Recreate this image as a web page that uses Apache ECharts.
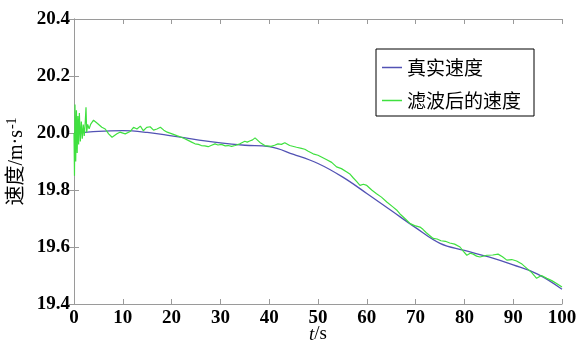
<!DOCTYPE html>
<html>
<head>
<meta charset="utf-8">
<script src="https://cdn.jsdelivr.net/npm/echarts@6/dist/echarts.min.js"></script>
<style>html,body{margin:0;padding:0;background:#fff;}#c{width:582px;height:345px;}</style>
</head>
<body>
<div id="c"></div>
<script>
// True velocity
const tTrue = [0,5,10,15,20,25,30,35,40,45,50,55,60,65,70,75,80,85,90,95,100];
const vTrue = [20.000,20.006,20.008,20.002,19.990,19.977,19.965,19.957,19.952,19.925,19.893,19.846,19.788,19.728,19.668,19.613,19.588,19.565,19.537,19.505,19.452];
// Filtered velocity
const tFilt = [0,0.1,0.2,0.35,0.5,0.65,0.8,0.95,1.1,1.3,1.5,1.7,1.9,2.1,2.3,2.46,2.6,2.8,3.1,3.4,3.7,4.0,4.4,4.7,5.1,5.7,6.4,7.1,7.8,8.1,8.8,9.4,10.5,11.5,12.2,12.9,13.6,14.2,14.9,15.6,16.3,17,17.7,18.4,19.1,20.1,21.2,22,22.7,23.4,24.1,24.8,25.5,26.1,26.8,27.5,28.2,28.9,29.5,30.2,31,31.6,32.3,33,34,35,35.5,36,36.6,37.1,37.6,38.1,39.1,40.4,41.1,41.8,42.5,43.2,44.2,45.6,46.6,47.3,48,49,50,50.8,51.8,52.8,53.8,54.8,55.9,56.6,57.2,57.9,58.6,59.3,60,61,62,63,64.1,65.4,66.1,66.8,67.8,68.9,69.8,70.9,71.5,72.2,73.6,74.4,75.2,76.1,77,78,79.1,79.8,80.5,81.2,81.8,82.5,83.2,84.6,85.8,86.9,87.8,88.7,89.7,90.7,91.8,92.8,93.8,94.8,95.8,96.9,97.9,98.9,100];
const vFilt = [20.0,19.85,20.10,19.90,20.08,19.93,20.06,19.96,20.07,19.97,20.04,19.98,20.03,19.99,20.037,20.09,20.003,20.03,20.015,20.03,20.026,20.045,20.05,20.035,20.04,20.02,20.014,19.997,19.985,19.98,19.997,20.003,19.997,20.005,20.02,20.014,20.024,20.008,20.02,20.022,20.01,20.014,20.02,20.01,20.003,19.997,19.99,19.985,19.98,19.974,19.968,19.962,19.96,19.956,19.955,19.952,19.957,19.962,19.958,19.96,19.955,19.956,19.953,19.956,19.962,19.971,19.968,19.972,19.976,19.983,19.975,19.967,19.956,19.953,19.957,19.962,19.96,19.966,19.956,19.95,19.946,19.943,19.936,19.927,19.922,19.915,19.906,19.897,19.881,19.875,19.863,19.855,19.843,19.83,19.816,19.82,19.816,19.8,19.787,19.775,19.758,19.74,19.73,19.716,19.7,19.682,19.675,19.67,19.662,19.65,19.63,19.628,19.622,19.62,19.614,19.61,19.6,19.585,19.571,19.578,19.575,19.568,19.565,19.571,19.572,19.575,19.566,19.554,19.556,19.551,19.54,19.525,19.51,19.49,19.5,19.49,19.482,19.472,19.46];
const seriesNames = ['真实速度','滤波后的速度'];
const xName = '{i|t}/s';
const yName = '速度/m·s{sup|-1}';

const labelFont = {color:'#000', fontFamily:'Liberation Serif', fontWeight:'bold', fontSize:19};
const axisLineStyle = {lineStyle:{color:'#9a9a9a', width:1}};
const tickStyle = {show:true, inside:true, length:5, lineStyle:{color:'#9a9a9a'}};

const chart = echarts.init(document.getElementById('c'));
chart.setOption({
  animation:false,
  backgroundColor:'#fff',
  grid:{left:74, right:20, top:19, bottom:41, containLabel:false, outerBoundsMode:'none'},
  legend:{
    orient:'vertical', left:376, top:49,
    backgroundColor:'#fff', borderColor:'#000', borderWidth:1,
    padding:[9,13,6,6], itemGap:14,
    icon:'rect', itemWidth:20, itemHeight:1.5,
    textStyle:{fontFamily:'Noto Sans CJK SC', fontSize:19, color:'#000'},
    data:seriesNames
  },
  xAxis:[{
    type:'value', min:0, max:100, interval:10,
    axisLine:axisLineStyle, axisTick:tickStyle, splitLine:{show:false},
    axisLabel:Object.assign({margin:5}, labelFont),
    name:xName, nameLocation:'middle', nameGap:21, nameMoveOverlap:false,
    nameTextStyle:{fontFamily:'Liberation Serif', fontSize:19, color:'#000',
      rich:{i:{fontFamily:'Liberation Serif', fontStyle:'italic', fontSize:19, color:'#000'}}}
  },{
    type:'value', position:'top', min:0, max:100, interval:10,
    axisLine:axisLineStyle, axisTick:tickStyle, axisLabel:{show:false}, splitLine:{show:false}
  }],
  yAxis:[{
    type:'value', min:19.4, max:20.4, interval:0.2,
    axisLine:Object.assign({show:true}, axisLineStyle), axisTick:tickStyle, splitLine:{show:false},
    axisLabel:Object.assign({margin:4, formatter:v=>v.toFixed(1)}, labelFont),
    name:yName, nameLocation:'middle', nameGap:46, nameRotate:90, nameMoveOverlap:false,
    nameTextStyle:{fontFamily:'Liberation Serif, Noto Sans CJK SC', fontSize:20, color:'#000',
      rich:{sup:{fontFamily:'Liberation Serif', fontSize:14, color:'#000', verticalAlign:'top', padding:[0,0,9,1]}}}
  },{
    type:'value', position:'right', min:19.4, max:20.4, interval:0.2,
    axisLine:Object.assign({show:true}, axisLineStyle), axisTick:tickStyle, axisLabel:{show:false}, splitLine:{show:false}
  }],
  series:[{
    name:seriesNames[0], type:'line', showSymbol:false, symbol:'none', smooth:0.4,
    data:tTrue.map((t,i)=>[t,vTrue[i]]),
    lineStyle:{color:'#5252b4', width:1.3}, itemStyle:{color:'#5252b4'}
  },{
    name:seriesNames[1], type:'line', showSymbol:false, symbol:'none',
    data:tFilt.map((t,i)=>[t,vFilt[i]]),
    lineStyle:{color:'#3fe03f', width:1.2}, itemStyle:{color:'#3fe03f'}
  }]
});
</script>
</body>
</html>
